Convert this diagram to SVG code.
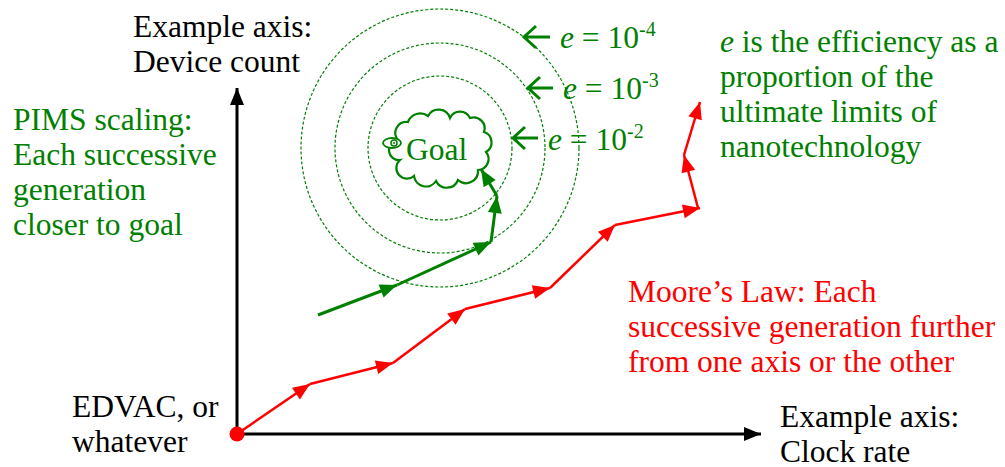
<svg xmlns="http://www.w3.org/2000/svg" width="1005" height="467" viewBox="0 0 1005 467" font-family="Liberation Serif, Times New Roman, serif" font-size="31.5">
<style>
text{font-family:"Liberation Serif","Times New Roman",Tinos,serif;font-size:31.5px}
.k{fill:#000}.g{fill:#008000}.r{fill:#ff0000}
.ring{fill:none;stroke:#008000;stroke-width:1.2;stroke-dasharray:3 2}
.rl{fill:none;stroke:#ff0000;stroke-width:2.5;marker-end:url(#ra)}
.gl{fill:none;stroke:#008000;stroke-width:3;marker-end:url(#ga)}
.lar{fill:none;stroke:#008000;stroke-width:3}
.sup{font-size:20px}
</style>
<defs>
<marker id="ra" markerUnits="userSpaceOnUse" markerWidth="20" markerHeight="20" viewBox="-18 -8 20 16" refX="0" refY="0" orient="auto"><path d="M0,0 L-17,-7 L-17,7 Z" fill="#ff0000"/></marker>
<marker id="ga" markerUnits="userSpaceOnUse" markerWidth="20" markerHeight="20" viewBox="-18 -8 20 16" refX="0" refY="0" orient="auto"><path d="M0,0 L-17,-7 L-17,7 Z" fill="#008000"/></marker>
<marker id="ka" markerUnits="userSpaceOnUse" markerWidth="20" markerHeight="20" viewBox="-18 -8 20 16" refX="0" refY="0" orient="auto"><path d="M0,0 L-17,-7 L-17,7 Z" fill="#000"/></marker>
</defs>
<g id="rings">
<circle class="ring" cx="440" cy="148" r="72"/>
<circle class="ring" cx="440" cy="148" r="105"/>
<circle class="ring" cx="440" cy="148" r="139"/>
</g>
<g id="axes">
<line x1="237" y1="434" x2="237" y2="88" stroke="#000" stroke-width="3" marker-end="url(#ka)"/>
<line x1="237" y1="434" x2="761" y2="434" stroke="#000" stroke-width="3" marker-end="url(#ka)"/>
</g>
<g id="connectors">
<path class="rl" d="M237,434 L310,384"/>
<path class="rl" d="M310,384 L393,363"/>
<path class="rl" d="M393,363 L465,309"/>
<path class="rl" d="M465,309 L550,288"/>
<path class="rl" d="M550,288 L615,225"/>
<path class="rl" d="M615,225 L700,208"/>
<path class="rl" d="M698,208 L684,155"/>
<path class="rl" d="M684,155 L700,102"/>
<path class="gl" d="M318,315 L397,285"/>
<path class="gl" d="M397,285 L491,242"/>
<path class="gl" d="M491,242 L497,196"/>
<path class="gl" d="M497,196 L481,169"/>
</g>
<g id="edvac">
<circle cx="237" cy="434" r="7.5" fill="#ff0000"/>
<text class="k" x="72" y="417">EDVAC, or</text>
<text class="k" x="72" y="452">whatever</text>
</g>
<g id="goal">
<path d="M398,140 A11,11 0 0 1 408,122 A13,13 0 0 1 428,116 A12,12 0 0 1 450,118 A11,11 0 0 1 470,118 A11,11 0 0 1 484,132 A11,11 0 0 1 486,152 A11,11 0 0 1 478,170 A12,12 0 0 1 458,180 A12,12 0 0 1 436,181 A12,12 0 0 1 414,176 A10,10 0 0 1 400,160 A10,10 0 0 1 398,140 Z" fill="#fff" stroke="#008000" stroke-width="2.2"/>
<ellipse cx="392" cy="143" rx="9" ry="5" fill="#fff" stroke="#008000" stroke-width="1.8"/>
<circle cx="394" cy="143" r="3" fill="none" stroke="#008000" stroke-width="1.5"/>
<circle cx="394" cy="143" r="1" fill="#008000"/>
<text class="g" x="406" y="160">Goal</text>
</g>
<g id="elabels">
<path class="lar" d="M550,37 H524 M536,26 L524,37 L536,48"/>
<text class="g" x="560" y="48"><tspan font-style="italic">e</tspan> = 10<tspan class="sup" dy="-12">-4</tspan></text>
<path class="lar" d="M553,88 H528 M540,77 L528,88 L540,99"/>
<text class="g" x="563" y="99"><tspan font-style="italic">e</tspan> = 10<tspan class="sup" dy="-12">-3</tspan></text>
<path class="lar" d="M538,138 H513 M525,127 L513,138 L525,149"/>
<text class="g" x="548" y="150"><tspan font-style="italic">e</tspan> = 10<tspan class="sup" dy="-12">-2</tspan></text>
</g>
<g id="ylabel">
<text class="k" x="133" y="37">Example axis:</text>
<text class="k" x="133" y="72">Device count</text>
</g>
<g id="xlabel">
<text class="k" x="780" y="427">Example axis:</text>
<text class="k" x="780" y="462">Clock rate</text>
</g>
<g id="pims">
<text class="g" x="13" y="130">PIMS scaling:</text>
<text class="g" x="13" y="165">Each successive</text>
<text class="g" x="13" y="200">generation</text>
<text class="g" x="13" y="235">closer to goal</text>
</g>
<g id="enote">
<text class="g" x="720" y="52"><tspan font-style="italic">e</tspan> is the efficiency as a</text>
<text class="g" x="720" y="87">proportion of the</text>
<text class="g" x="720" y="122">ultimate limits of</text>
<text class="g" x="720" y="157">nanotechnology</text>
</g>
<g id="moore">
<text class="r" x="628" y="302">Moore’s Law: Each</text>
<text class="r" x="628" y="337">successive generation further</text>
<text class="r" x="628" y="372">from one axis or the other</text>
</g>
</svg>
